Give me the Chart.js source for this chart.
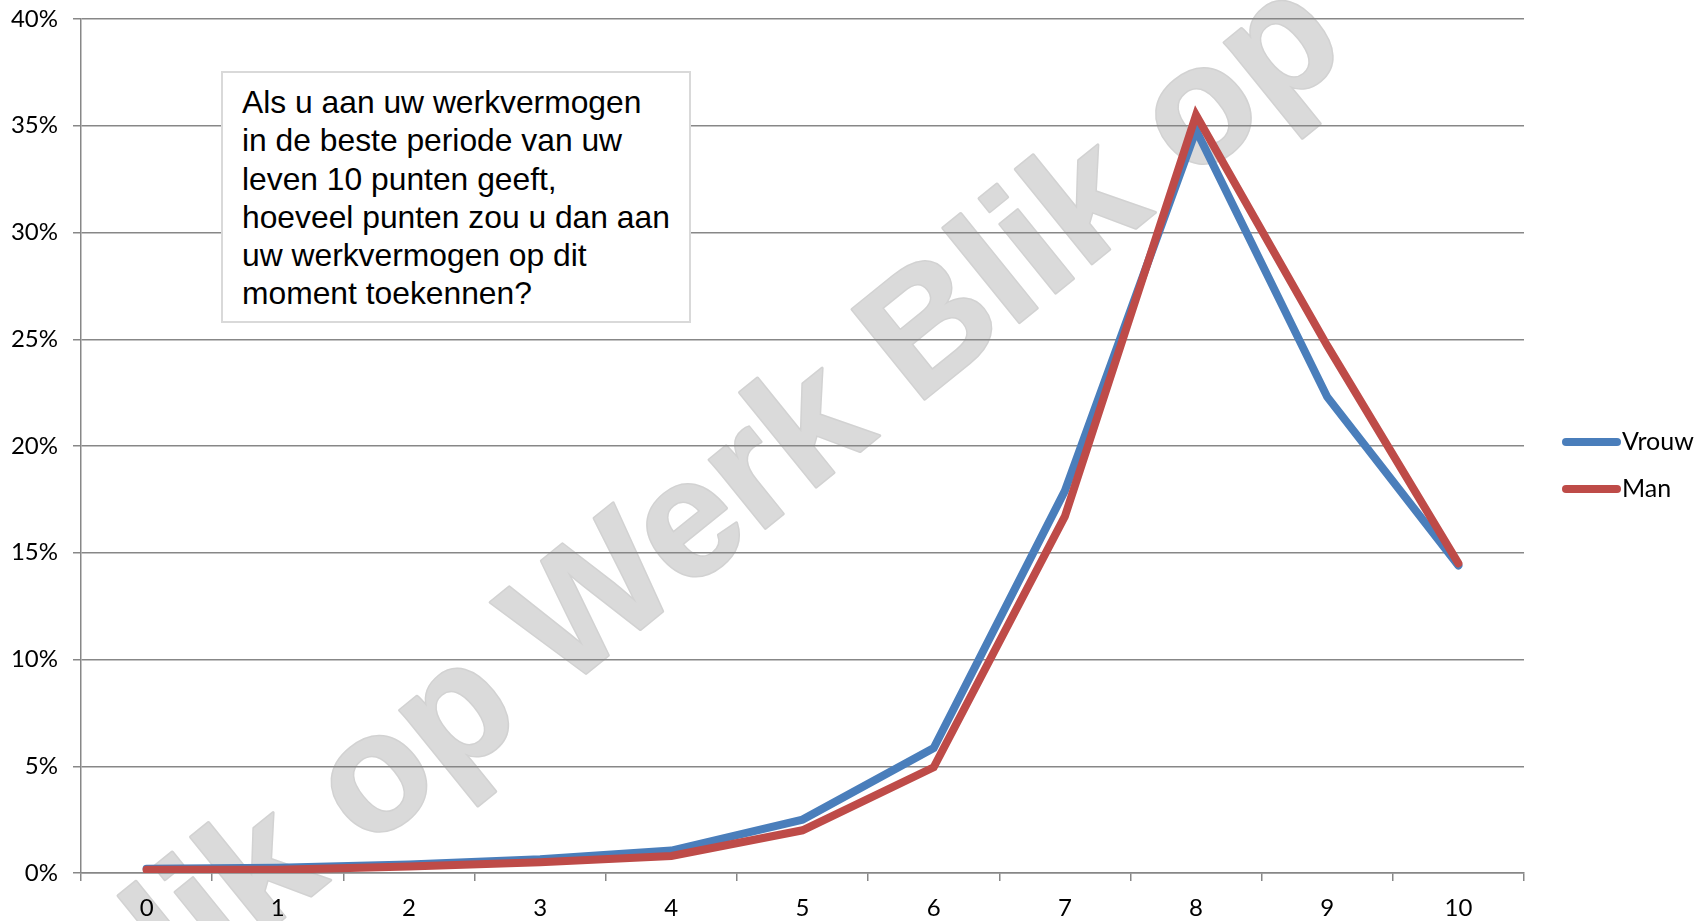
<!DOCTYPE html>
<html>
<head>
<meta charset="utf-8">
<script src="https://cdn.jsdelivr.net/npm/chart.js@4/dist/chart.umd.min.js"></script>
<style>
  body { margin: 0; background: #fff; }
  #wrap { position: relative; width: 1707px; height: 921px; }
  #vraag {
    position: absolute; left: 221px; top: 71px; width: 470px; height: 252px;
    box-sizing: border-box; border: 2px solid #d9d9d9; background: #fff;
    padding: 10px 8px 0 19px;
    font-family: "Liberation Sans", Arial, sans-serif; font-size: 31.8px; line-height: 38.3px; color: #000;
  }
</style>
</head>
<body>
<div id="wrap">
  <canvas id="grafiek" width="1707" height="921"></canvas>
  <div id="vraag">Als u aan uw werkvermogen<br>in de beste periode van uw<br>leven 10 punten geeft,<br>hoeveel punten zou u dan aan<br>uw werkvermogen op dit<br>moment toekennen?</div>
</div>
<script>
// scores 0..10
const scores = ['0', '1', '2', '3', '4', '5', '6', '7', '8', '9', '10'];
// percentages
const vrouw = [0.2, 0.25, 0.4, 0.65, 1.05, 2.5, 5.85, 17.9, 34.8, 22.3, 14.4];
const man = [0.15, 0.15, 0.3, 0.5, 0.8, 2.0, 4.95, 16.7, 35.5, 24.7, 14.5];

const watermerk = 'Blik op Werk Blik op';

// watermerk onder alles
const watermarkPlugin = {
  id: 'watermark',
  beforeDraw(chart) {
    const ctx = chart.ctx;
    ctx.save();
    ctx.translate(692, 528);
    ctx.rotate(-39 * Math.PI / 180);
    ctx.font = 'bold 168px "Liberation Sans", Arial, sans-serif';
    ctx.textAlign = 'center';
    ctx.textBaseline = 'middle';
    ctx.lineJoin = 'round';
    ctx.strokeStyle = '#d2d2d2';
    ctx.lineWidth = 3;
    ctx.strokeText(watermerk, 0, 0);
    ctx.fillStyle = '#dadada';
    ctx.fillText(watermerk, 0, 0);
    ctx.restore();
  }
};

// legenda rechts
const legendPlugin = {
  id: 'sideLegend',
  afterDraw(chart) {
    const ctx = chart.ctx;
    ctx.save();
    ctx.font = '25px Lato, sans-serif';
    ctx.textBaseline = 'middle';
    chart.data.datasets.forEach((ds, i) => {
      const y = 442 + i * 47;
      ctx.strokeStyle = ds.borderColor;
      ctx.lineWidth = 8;
      ctx.lineCap = 'round';
      ctx.beginPath();
      ctx.moveTo(1566, y);
      ctx.lineTo(1617, y);
      ctx.stroke();
      ctx.fillStyle = '#000';
      ctx.fillText(ds.label, 1622, y);
    });
    ctx.restore();
  }
};

new Chart(document.getElementById('grafiek'), {
  type: 'line',
  data: {
    labels: scores,
    datasets: [
      {
        label: 'Vrouw',
        data: vrouw,
        borderColor: '#4a7ebb',
        borderWidth: 8,
        pointRadius: 0,
        borderCapStyle: 'round',
        borderJoinStyle: 'miter',
        tension: 0,
        order: 2
      },
      {
        label: 'Man',
        data: man,
        borderColor: '#be4b48',
        borderWidth: 8,
        pointRadius: 0,
        borderCapStyle: 'round',
        borderJoinStyle: 'miter',
        tension: 0,
        order: 1
      }
    ]
  },
  options: {
    responsive: false,
    animation: false,
    layout: {
      padding: { top: 19, right: 183, left: 0, bottom: 0 }
    },
    plugins: {
      legend: { display: false },
      tooltip: { enabled: false }
    },
    scales: {
      x: {
        offset: true,
        grid: {
          offset: true,
          drawOnChartArea: false,
          drawTicks: true,
          tickLength: 8,
          color: '#878787',
          lineWidth: 1.5
        },
        border: { color: '#878787', width: 1.5 },
        ticks: {
          color: '#000',
          padding: 13,
          maxRotation: 0,
          autoSkip: false,
          font: { family: 'Lato', size: 24 }
        },
        afterFit(scale) { scale.height = 48; }
      },
      y: {
        min: 0,
        max: 40,
        ticks: {
          stepSize: 5,
          color: '#000',
          padding: 15,
          font: { family: 'Lato', size: 24 },
          callback: v => v + '%'
        },
        grid: {
          color: '#878787',
          lineWidth: 1.5,
          tickLength: 8
        },
        border: { color: '#878787', width: 1.5 },
        afterFit(scale) {
          scale.width = 81;
          scale.paddingTop = 0;
          scale.paddingBottom = 0;
        }
      }
    }
  },
  plugins: [watermarkPlugin, legendPlugin]
});
</script>
</body>
</html>
